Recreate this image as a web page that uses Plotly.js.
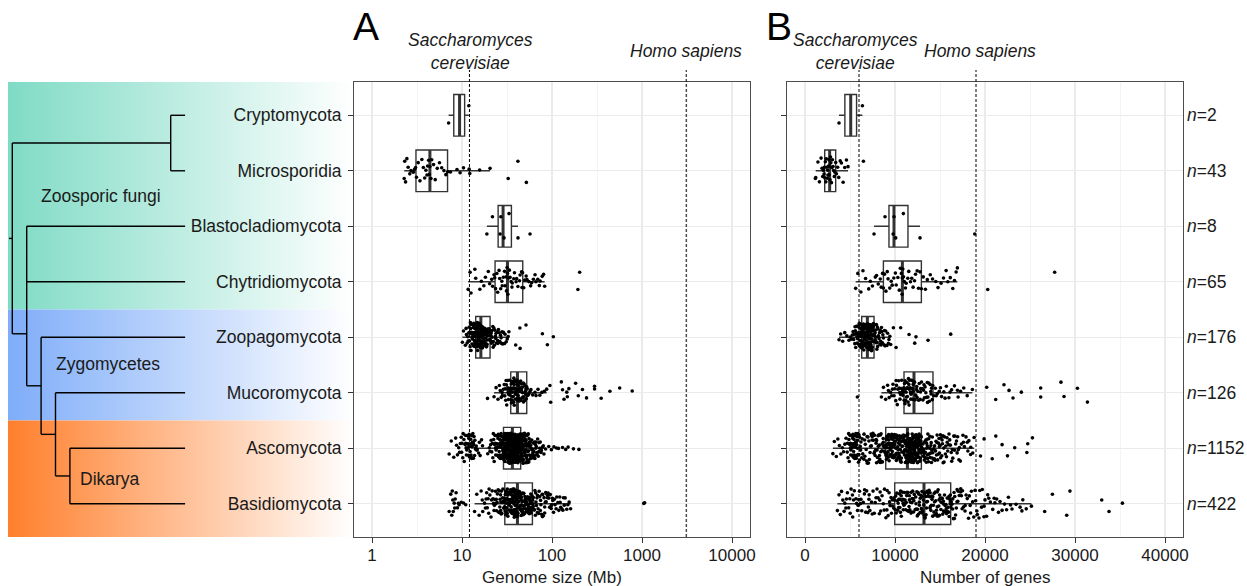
<!DOCTYPE html>
<html>
<head>
<meta charset="utf-8">
<script src="https://cdn.plot.ly/plotly-3.0.1.min.js"></script>
<style>
  html, body { margin: 0; padding: 0; background: #ffffff; }
  #chart { width: 1247px; height: 586px; }
</style>
</head>
<body>
<div id="chart"></div>
<script>
// ---------------------------------------------------------------
// Fungal phyla, top to bottom
// ---------------------------------------------------------------
const phyla = ['Cryptomycota', 'Microsporidia', 'Blastocladiomycota', 'Chytridiomycota',
               'Zoopagomycota', 'Mucoromycota', 'Ascomycota', 'Basidiomycota'];
const sampleSizes = [2, 43, 8, 65, 176, 126, 1152, 422];

// Clades shaded behind the tree
const cladeNames = ['Zoosporic fungi', 'Zygomycetes', 'Dikarya'];
const cladeFirst = ['Cryptomycota', 'Zoopagomycota', 'Ascomycota'];
const cladeLast  = ['Chytridiomycota', 'Mucoromycota', 'Basidiomycota'];

// Cladogram: internal nodes, their depth and their children
const treeNodes    = ['root', 'cmClade', 'coreClade', 'terrestrialClade', 'mucDikClade', 'dikaryaClade'];
const treeDepth    = [0, 11, 1, 2, 3, 4];
const treeChildren = [
  ['cmClade', 'coreClade'],
  ['Cryptomycota', 'Microsporidia'],
  ['Blastocladiomycota', 'Chytridiomycota', 'terrestrialClade'],
  ['Zoopagomycota', 'mucDikClade'],
  ['Mucoromycota', 'dikaryaClade'],
  ['Ascomycota', 'Basidiomycota']
];
const tipDepth = 12;

// Reference organisms
const refNames     = ['Saccharomyces cerevisiae', 'Homo sapiens'];
const refGenomeMb  = [12.1, 3100];
const refGeneCount = [6000, 19000];

// ---------------------------------------------------------------
// Genome size (Mb) per genome
// ---------------------------------------------------------------
const gsCrypto = [7.1, 11.9];
const gsMicro = [2.28, 2.31, 2.36, 2.44, 2.52, 2.63, 2.71, 2.88, 2.97, 3.05,
  3.12, 3.26, 3.41, 3.58, 3.72, 3.85, 3.97, 4.08, 4.15, 4.26,
  4.33, 4.40, 4.52, 4.61, 4.83, 5.04, 5.31, 5.62, 5.95, 6.30,
  6.62, 6.91, 7.45, 8.80, 9.52, 10.4, 12.0, 12.2, 15.7, 20.5,
  32.6, 41.8, 51.9];
const gsBlasto = [18.9, 21.8, 26.5, 27.0, 29.3, 33.3, 41.9, 57.0];
const gsChytrid = [11.7, 12.3, 12.6, 13.9, 14.2, 15.8, 16.4, 17.5, 18.2, 19.6,
  20.3, 21.4, 21.9, 22.7, 23.1, 23.6, 24.4, 24.9, 25.8, 26.2,
  26.9, 27.7, 28.0, 28.8, 29.7, 30.1, 30.9, 31.2, 31.7, 32.0,
  32.3, 32.9, 33.6, 34.2, 35.1, 35.9, 36.2, 37.6, 38.3, 39.9,
  40.5, 41.8, 43.6, 44.2, 45.9, 46.4, 47.1, 48.5, 49.8, 51.6,
  52.7, 55.3, 57.9, 59.4, 62.1, 64.8, 66.2, 69.5, 72.3, 73.8,
  77.9, 80.6, 82.9, 194, 203];
const gsZoopago = [10.1, 10.4, 10.9, 11.2, 11.4, 11.7, 11.9, 12.0, 12.3, 12.2,
  12.5, 12.6, 12.4, 12.9, 12.8, 13.1, 13.0, 12.7, 13.3, 13.2,
  13.5, 13.4, 13.6, 13.3, 13.8, 13.7, 13.9, 13.6, 14.0, 13.8,
  14.1, 13.9, 12.1, 11.6, 13.5, 14.2, 13.1, 12.6, 14.0, 13.7,
  11.1, 12.9, 13.4, 14.1,
  14.3, 14.5, 14.4, 14.8, 14.6, 15.0, 14.9, 15.2, 15.1, 15.4,
  15.3, 15.6, 15.5, 15.8, 15.7, 16.0, 15.9, 16.1, 14.7, 15.0,
  14.4, 15.3, 15.7, 14.6, 15.5, 16.2, 14.9, 15.1, 15.9, 14.3,
  15.4, 15.8, 14.8, 16.0, 15.2, 14.5, 15.6, 16.1, 14.7, 15.3,
  15.0, 15.9, 14.6, 15.5,
  16.4, 16.7, 16.9, 17.2, 17.0, 17.5, 17.3, 17.8, 18.1, 17.6,
  18.4, 18.0, 18.7, 18.9, 19.3, 19.0, 19.6, 19.8, 20.1, 20.4,
  16.5, 16.8, 17.1, 17.4, 17.9, 18.3, 18.6, 19.1, 19.5, 20.0,
  16.3, 16.6, 17.7, 18.2, 18.8, 19.4, 20.3, 16.9, 17.2, 18.5,
  19.2, 20.2, 17.0, 16.4,
  20.7, 21.1, 21.5, 22.0, 22.6, 23.1, 23.9, 24.6, 25.4, 26.3,
  27.2, 28.4, 29.7, 31.0, 32.6, 21.3, 22.3, 23.5, 24.2, 25.9,
  27.8, 30.1, 21.8, 20.9, 22.9, 26.8, 24.9, 21.6, 28.9, 23.7,
  31.8, 22.2, 20.6, 25.1, 27.5, 33.2, 21.0,
  39.5, 44.0, 44.2, 51.4, 78.2, 88.8, 103.5];
const gsMucoro = [19.2, 22.7, 30.2, 25.1, 33.5, 28.1, 31.9, 26.0, 34.2, 29.5,
  32.8, 23.9, 30.9, 27.3, 33.9, 31.4, 28.8, 34.6, 32.3, 29.9,
  33.1, 31.1, 27.9, 34.4, 32.5, 30.6, 26.6, 33.7, 32.0, 33.3, 34.7,
  35.0, 38.6, 36.3, 40.3, 37.2, 39.5, 35.9, 41.2, 38.1, 36.8,
  40.8, 37.7, 39.0, 35.4, 39.9, 36.1, 38.3, 41.0, 37.5, 35.6,
  40.0, 38.9, 36.6, 39.3, 37.0, 40.6, 35.2, 37.9, 39.7, 36.9, 38.4,
  41.5, 46.0, 43.4, 50.0, 42.1, 47.5, 44.7, 51.8, 42.8, 48.3,
  45.3, 50.9, 44.0, 49.1, 41.8, 46.8, 52.3, 43.0, 48.8, 44.3,
  50.4, 45.8, 42.5, 47.1, 49.6, 43.8, 51.2, 46.3, 45.0, 47.9, 44.9, 42.2,
  52.9, 53.1, 54.0, 55.5, 56.8, 58.3, 61.0, 64.7, 66.4, 69.9,
  73.2, 77.0, 82.1, 87.3, 94.8, 96.7, 127, 131, 136, 146,
  148, 154, 183, 196, 218, 242, 297, 297, 352, 440, 565, 778];
const gsAsco = [7.2, 12.4, 9.6, 13.8, 11.5, 8.5, 14.8, 10.2, 12.9, 16.5,
  11.0, 7.6, 13.3, 12.1, 9.9, 15.3, 11.7, 12.6, 8.1, 14.1,
  10.5, 13.1, 11.9, 16.9, 9.2, 12.3, 10.8, 14.4, 11.3, 12.8,
  8.9, 15.9, 11.2, 13.5, 12.0, 10.6, 12.7, 13.6, 9.4, 11.8,
  19.3, 24.7, 21.4, 27.9, 23.0, 26.1, 20.1, 28.5, 22.5, 25.5,
  27.3, 23.9, 20.8, 26.7, 24.3, 28.2, 22.0, 25.8, 27.6, 23.4,
  21.7, 26.4, 25.1, 28.8, 24.0, 27.0, 22.8, 25.3, 26.9, 23.6,
  27.4, 20.5, 25.9, 28.0, 24.5, 26.2, 27.1, 28.6, 23.2, 25.7,
  29.0, 33.5, 31.1, 35.3, 30.4, 32.9, 34.7, 29.8, 33.1, 31.6,
  35.8, 30.2, 32.4, 34.0, 29.5, 33.8, 31.3, 35.6, 30.7, 32.7,
  34.4, 29.3, 33.3, 31.8, 36.0, 30.9, 32.2, 34.9, 29.7, 33.7,
  31.4, 35.1, 30.3, 32.5, 34.2, 29.1, 33.9, 31.9, 35.7, 30.8,
  32.0, 34.6, 29.4, 33.0, 31.2, 35.2, 30.1, 32.8, 34.1, 29.6,
  33.4, 31.5, 35.5, 30.5, 32.3, 34.8, 29.2, 33.6, 31.7, 36.2,
  30.6, 32.6, 34.3, 29.9, 33.2, 31.0, 35.4, 30.0, 32.1, 34.5,
  36.1, 31.9, 33.8, 30.6, 32.8, 34.6, 35.0, 29.6, 31.5, 35.9,
  36.5, 40.7, 38.3, 43.1, 37.1, 41.6, 39.5, 44.3, 36.9, 42.2,
  38.9, 40.1, 43.7, 37.7, 41.0, 39.2, 44.8, 36.4, 42.8, 38.6,
  40.4, 43.4, 37.4, 41.3, 39.8, 44.0, 36.7, 42.5, 38.0, 40.9,
  43.9, 37.9, 41.8, 39.1, 44.6, 36.6, 42.0, 38.4, 40.3, 43.3,
  37.0, 41.5, 39.7, 44.2, 36.8, 42.7, 38.8, 40.6, 43.6, 37.6,
  41.2, 39.4, 44.5, 36.5, 42.4, 38.2, 40.0, 43.0, 37.3, 41.9,
  39.0, 44.7, 38.5, 42.1, 40.2, 43.5, 37.8, 41.4, 39.6, 42.9,
  36.9, 40.5, 43.8, 38.1, 41.7, 39.3, 42.6, 37.2, 40.8, 44.4,
  45.2, 52.5, 48.4, 61.2, 46.4, 55.8, 49.9, 66.3, 47.0, 57.0,
  51.6, 45.8, 72.8, 53.5, 47.7, 59.7, 49.1, 78.3, 54.6, 46.9,
  64.5, 50.7, 45.5, 58.3, 48.0, 68.2, 52.9, 62.8, 47.4, 55.1,
  81.4, 49.5, 57.6, 46.1, 70.4, 51.1, 60.4, 48.8, 75.5, 53.1,
  45.0, 63.6, 50.3, 56.3, 47.2, 85.0, 52.0, 67.0, 49.4, 58.9,
  46.6, 71.5, 54.0, 50.0, 62.0, 48.2, 76.2, 54.9, 65.4, 51.9,
  56.7, 80.0, 59.1, 69.3, 60.9, 64.0, 74.0, 66.0, 70.0, 73.1,
  92.0, 98.5, 105, 112, 118, 131, 142, 151, 173, 199,
  12.2, 11.4, 13.0, 10.9, 12.5, 14.6, 11.6, 13.4, 9.8, 12.9,
  10.3, 13.9, 11.1, 12.1, 14.2, 8.7, 15.6, 11.9, 13.2, 10.0,
  24.1, 27.7, 22.3, 26.6, 28.4, 25.0, 23.7, 27.2, 21.1, 26.0,
  30.2, 34.1, 31.6, 35.1, 29.4, 33.3, 30.9, 32.5, 36.0, 29.9,
  33.9, 31.3, 34.8, 32.0, 30.5, 35.6, 31.9, 33.6, 29.2, 34.4,
  37.4, 41.1, 39.2, 43.4, 36.8, 40.4, 42.6, 38.1, 44.1, 39.8,
  37.9, 41.8, 43.0, 36.6, 40.1, 42.3, 38.7, 44.6, 39.5, 41.5,
  46.3, 51.4, 48.7, 55.2, 47.5, 53.8, 50.2, 58.0, 45.7, 52.3,
  49.0, 62.5, 46.8, 56.1, 48.1, 54.4, 67.7, 51.7, 59.6, 47.9,
  45.4, 50.6, 57.3, 49.8, 53.0, 46.0, 61.7, 48.5, 55.6, 52.7,
  33.0, 36.4, 31.8, 38.9, 34.9, 40.0, 32.2, 37.0, 35.4, 42.0,
  30.0, 38.3, 33.7, 43.8, 36.2, 39.0, 31.0, 41.3, 34.3, 37.6];
const gsBasidio = [7.2, 8.4, 7.7, 9.8, 8.0, 11.0, 7.5, 8.9, 10.4, 7.9, 8.2, 9.3, 8.6, 7.8,
  13.8, 21.0, 17.8, 25.2, 15.5, 23.2, 19.1, 27.7, 16.3, 24.2,
  20.4, 28.9, 14.6, 22.1, 26.5, 18.5, 29.3, 21.6, 17.0, 25.6,
  23.7, 19.8, 27.3, 16.8, 22.7, 28.5, 24.7, 18.2, 26.1, 29.7,
  21.3, 19.5, 26.9, 22.4, 24.5, 28.1, 23.5, 25.9, 26.3, 28.3, 27.5,
  30.1, 35.7, 32.5, 39.3, 31.3, 37.3, 33.7, 40.5, 30.9, 36.1,
  34.1, 38.5, 31.7, 40.9, 33.3, 36.9, 30.5, 38.9, 34.9, 32.1,
  39.7, 35.3, 31.0, 37.7, 33.9, 41.2, 32.9, 36.5, 30.3, 38.1,
  34.5, 39.9, 31.9, 37.1, 35.1, 40.1, 32.7, 38.3, 30.7, 36.7,
  34.3, 39.1, 33.5, 40.7, 31.5, 37.9, 35.5, 32.3, 39.5, 34.7,
  36.3, 38.7, 31.2, 40.3, 37.5,
  41.6, 50.7, 45.1, 57.0, 43.7, 53.5, 47.9, 59.8, 42.3, 55.6,
  49.3, 44.4, 58.4, 46.5, 52.1, 43.0, 56.3, 48.6, 54.2, 45.8,
  60.4, 50.0, 42.7, 57.7, 47.2, 53.9, 44.8, 59.1, 49.7, 51.4,
  41.9, 55.3, 46.2, 58.1, 48.3, 52.8, 43.4, 56.7, 50.4, 54.6,
  45.5, 60.2, 47.6, 51.8, 42.0, 57.4, 49.0, 53.2, 44.1, 58.8,
  46.9, 55.9, 51.1, 54.9, 56.0,
  61.5, 84.4, 68.1, 106, 63.0, 94.0, 74.2, 122, 66.3, 90.6,
  70.0, 137, 64.6, 79.0, 101, 72.0, 155, 62.2, 87.4, 116,
  76.5, 65.4, 97.6, 81.6, 129, 69.0, 111, 73.1, 146, 63.8,
  82.9, 104, 67.2, 95.7, 77.7, 125, 71.0, 88.9, 113, 75.3,
  140, 80.3, 99.3, 86.0, 119, 92.3, 108, 78.2, 132, 85.1,
  161, 98.0, 150, 1047, 1070,
  33.1, 44.6, 38.2, 52.4, 29.0, 47.3, 35.9, 58.6, 41.8, 31.8,
  49.5, 36.8, 55.0, 27.0, 43.2, 39.6, 61.9, 34.8, 46.0, 51.0,
  24.0, 68.9, 37.4, 42.9, 30.6, 53.6, 40.0, 74.7, 32.4, 45.6,
  20.0, 57.9, 38.0, 89.8, 35.2, 48.0, 26.8, 60.9, 42.5, 33.9,
  18.8, 9.1, 8.3, 102, 39.0, 50.5, 29.6, 44.0, 65.9, 36.0,
  123, 41.0, 31.4, 54.2, 22.9, 47.0, 37.0, 83.0, 45.2, 134];

// Box summaries of genome size: lower whisker, Q1, median, Q3, upper whisker
const gsLow    = [7.1, 2.28, 18.9, 11.7, 10.1, 22.7, 15.3, 13.8];
const gsQ1     = [8.1, 3.08, 25.2, 23.3, 14.2, 34.8, 28.9, 29.9];
const gsMedian = [9.4, 4.40, 28.6, 32.0, 16.2, 41.3, 36.3, 41.3];
const gsQ3     = [10.7, 6.91, 35.4, 47.3, 20.5, 52.4, 44.9, 60.6];
const gsHigh   = [11.9, 20.5, 41.9, 82.9, 33.2, 87.3, 85.0, 161];

// ---------------------------------------------------------------
// Number of predicted genes per genome
// ---------------------------------------------------------------
const gnCrypto = [3780, 6380];
const gnMicro = [1150, 1190, 1437, 1602, 1785, 1893, 1968, 2046, 2118, 2153,
  2204, 2261, 2318, 2366, 2419, 2472, 2508, 2551, 2609, 2654,
  2696, 2741, 2779, 2836, 2871, 2934, 2985, 3046, 3117, 3172,
  3259, 3326, 3412, 3489, 3628, 3751, 3912, 4046, 4238, 4415,
  4604, 4780, 6490];
const gnBlasto = [7670, 8890, 9790, 9890, 10080, 10930, 12780, 18860];
const gnChytrid = [5630, 5870, 6210, 6440, 6730, 7080, 7260, 7490, 7810, 7950,
  8140, 8360, 8470, 8620, 8710, 8830, 8990, 9140, 9230, 9420,
  9580, 9690, 9870, 10040, 10130, 10320, 10480, 10590, 10710, 10790,
  10820, 10870, 10940, 11030, 11160, 11240, 11420, 11530, 11720, 11860,
  12010, 12170, 12280, 12460, 12610, 12770, 12930, 13140, 13380, 13590,
  13920, 14170, 14530, 14780, 15120, 15390, 15680, 15870, 16140, 16420,
  16610, 16790, 16930, 20300, 27740];
const gnZoopago = [3780, 3962, 4187, 4415, 4652, 4886, 5023, 5168, 5257, 5343,
  5409, 5476, 5534, 5592, 5637, 5684, 5723, 5768, 5812, 5846,
  5884, 5917, 5953, 5988, 6021, 6046, 6079, 6103, 6127, 6152,
  6168, 6193, 6207, 6234, 6249, 6263, 6278, 6291, 5561, 5873,
  6038, 6201, 5702, 5961,
  6312, 6335, 6361, 6372, 6398, 6415, 6427, 6458, 6471, 6496,
  6507, 6534, 6552, 6578, 6583, 6609, 6638, 6647, 6673, 6692,
  6715, 6728, 6756, 6761, 6793, 6814, 6829, 6857, 6866, 6893,
  6908, 6924, 6344, 6419, 6486, 6561, 6624, 6689, 6742, 6805,
  6851, 6902, 6383, 6597,
  6945, 6972, 6998, 7021, 7046, 7064, 7093, 7118, 7139, 7162,
  7188, 7214, 7237, 7259, 7286, 7311, 7335, 7358, 7382, 7407,
  7429, 7453, 7476, 7502, 7527, 7548, 7573, 7596, 7621, 7648,
  6958, 7035, 7106, 7174, 7247, 7318, 7391, 7462, 7538, 7610,
  7009, 7201, 7366, 7583,
  7702, 7748, 7815, 7869, 7932, 8004, 8071, 8153, 8226, 8318,
  8405, 8497, 8602, 8718, 8835, 8964, 9108, 9265, 9430, 9522,
  7735, 7851, 7986, 8112, 8274, 8446, 8653, 8892, 9180, 7790,
  8039, 8366, 8780, 9331, 7910, 8550,
  9820, 10120, 10630, 11560, 12190, 12330, 13670, 16190];
const gnMucoro = [5820, 8490, 8716, 8963, 9178, 9352, 9508, 9641, 9776, 9893,
  9987, 10084, 10165, 10253, 10327, 10412, 10476, 10553, 10618, 10694,
  10748, 10812, 10869, 10933, 10981, 9268, 9719, 10122, 10519, 10838, 10955,
  11018, 11063, 11107, 11154, 11192, 11236, 11284, 11317, 11372, 11408,
  11453, 11497, 11538, 11586, 11629, 11674, 11709, 11758, 11803, 11841,
  11887, 11932, 11968, 12019, 12058, 12094, 11129, 11346, 11562, 11781, 12003,
  12168, 12243, 12307, 12395, 12458, 12536, 12627, 12694, 12786, 12853,
  12944, 13017, 13106, 13172, 13265, 13338, 13427, 13494, 13586, 13653,
  13748, 13815, 13907, 13976, 14064, 14138, 14201, 12419, 12834, 13223, 13614, 14012,
  14306, 14482, 14693, 14918, 15174, 15427, 15703, 15988, 16291, 16607,
  16942, 17283, 17641, 18022, 18600, 14577, 15049, 15563, 16118, 17012,
  20190, 21190, 22110, 22670, 23110, 24040, 26190, 26190, 28440, 28780, 30270, 31380];
const gnAsco = [3100, 5210, 4780, 6140, 8420, 5530, 7290, 4920, 5880, 8860,
  3480, 5350, 6700, 5050, 7790, 5720, 4560, 8120, 5440, 6220,
  3820, 5110, 7480, 5620, 4690, 8600, 5940, 7000, 5260, 6420,
  4150, 5770, 8270, 4990, 5400, 7670, 6070, 4850, 8940, 5580,
  3650, 6300, 5160, 7150, 5490, 8690, 4430, 5670, 7960, 5310,
  6850, 5820, 4290, 8510, 5080, 7370, 6000, 3990, 8780, 5370,
  6560, 7550, 3260, 5650, 8220, 7230, 5900, 6930, 8900, 7850,
  6630, 8380, 7420, 8010, 8560, 7900, 8730, 8320, 8180, 7730,
  9120, 10480, 9870, 11210, 9350, 10790, 9040, 10150, 11330, 9610,
  10620, 9980, 11050, 9230, 10360, 9760, 10940, 9510, 11170, 10020,
  9410, 10710, 9080, 10260, 11290, 9690, 10550, 9190, 10880, 9940,
  11110, 9300, 10430, 9820, 11000, 9560, 10190, 9005, 10680, 11360,
  9650, 10310, 9270, 10830, 9910, 11240, 9460, 10580, 10090, 9730,
  11080, 9160, 10400, 9590, 10970, 9850, 11310, 9380, 10650, 10210,
  9050, 10760, 9790, 11140, 9490, 10340, 9950, 10860, 9210, 10500,
  11270, 9640, 10110, 9330, 10910, 9700, 11190, 10050, 9430, 10600,
  11420, 12310, 11890, 12760, 11560, 12080, 12650, 11710, 12440, 11980,
  12870, 11490, 12190, 11820, 12580, 11640, 12370, 12900, 11930, 12020,
  11450, 12710, 11760, 12260, 12520, 11600, 12140, 11870, 12820, 12400,
  11530, 12050, 12680, 11680, 12230, 11950, 12490, 11400, 12790, 12110,
  11790, 12610, 11470, 12340, 11910, 12160, 12550, 11730, 12920, 12000,
  11580, 12420, 11850, 12290, 11660, 12740, 12070, 11520, 12470, 11960,
  12200, 11440, 12630, 11810, 12360, 11620, 12850, 12120, 11700, 12540,
  11990, 12270, 11550, 12690, 11900, 12170, 12800, 11750, 12450, 12040,
  13050, 15420, 13880, 17260, 14310, 13190, 16080, 14820, 13560, 18210,
  15010, 13320, 16740, 14090, 13720, 15860, 17890, 14560, 13110, 16420,
  15230, 13990, 18640, 14680, 13430, 16960, 15640, 14200, 17550, 13620,
  15330, 14930, 13010, 16250, 13800, 17040, 14450, 15780, 18420, 13260,
  14740, 16610, 13530, 15120, 17710, 14020, 13950, 16150, 15500, 13370,
  14380, 17380, 13690, 15940, 16830, 14130, 13160, 15270, 18030, 14610,
  13480, 16530, 15070, 13840, 17150, 14890, 16370, 13590, 15720, 18790,
  19500, 19900, 20800, 21200, 21900, 22500, 23300, 24650, 24750, 25270,
  5150, 5480, 4880, 5700, 5320, 6050, 4720, 5560, 5990, 5090,
  5830, 5420, 6180, 4960, 5610, 5270, 6350, 5040, 5760, 5380,
  7100, 8050, 7600, 8450, 6800, 7900, 8700, 7350, 8250, 6550,
  9250, 10350, 9700, 11050, 9450, 10600, 9950, 10800, 9150, 10150,
  11250, 9600, 10500, 9850, 10950, 9350, 10250, 11150, 9550, 10700,
  11480, 12250, 11650, 12550, 11920, 12760, 11540, 12380, 11780, 12650,
  11430, 12180, 11860, 12880, 11610, 12320, 12010, 12480, 11720, 12600,
  13300, 14500, 15800, 13650, 16900, 14150, 15350, 13900, 17600, 14850,
  13150, 16300, 15050, 14300, 18100, 13500, 15600, 14650, 16650, 13750,
  14050, 15200, 13400, 17100, 14400, 16000, 13250, 15450, 18400, 14950,
  7450, 8150, 6900, 8550, 7750, 8850, 7050, 8350, 6650, 7950,
  9100, 10050, 10450, 9750, 11350, 12150, 11800, 12950, 13000, 13600];
const gnBasidio = [3600, 4350, 5120, 6980, 8410, 3920, 7560, 9240, 4710, 6150,
  8830, 5480, 7210, 9610, 4060, 6470, 8120, 5830, 9870, 4980,
  7890, 3780, 6620, 8560, 5270, 9450, 7040, 4540, 8990, 6310,
  5660, 9730, 4200, 7700, 6850, 8260, 5960, 9130, 4850, 7390,
  6060, 8700, 5390, 9560, 7130, 4420, 8000, 6750, 9950, 5020,
  7470, 8350, 6210, 9340, 5740,
  10030, 11840, 10560, 12710, 11190, 10270, 12430, 11520, 10810, 13150,
  11970, 10140, 12060, 10690, 12890, 11330, 10420, 12570, 11060, 13020,
  10920, 11710, 12250, 10350, 12990, 11410, 10760, 12140, 11600, 10080,
  12650, 11250, 10620, 13200, 11880, 10490, 12330, 11120, 12800, 10200,
  11780, 12480, 10870, 11450, 12930, 10310, 12020, 11640, 10990, 12600,
  11020, 12370, 10540, 13080, 11560,
  13280, 14950, 13710, 15820, 14260, 13450, 15370, 14600, 16080, 13860,
  15100, 14040, 15640, 13350, 14790, 15950, 14420, 13560, 15260, 16150,
  13940, 14700, 15500, 13250, 14190, 15730, 14870, 13630, 16020, 15180,
  14320, 13790, 15430, 14530, 13410, 15890, 14110, 15020, 16110, 13520,
  14680, 15310, 13980, 15570, 14360, 13300, 15990, 14830, 13880, 15220,
  14480, 15680, 13640, 14960, 16170,
  16320, 18750, 17140, 21300, 16890, 19620, 17780, 23450, 16560, 20180,
  18260, 16420, 22170, 17460, 19150, 24580, 16730, 18960, 20860, 17290,
  16250, 19880, 18030, 22840, 17610, 16980, 21670, 18490, 25160, 17020,
  20420, 16640, 19330, 18350, 23900, 17900, 16500, 21020, 18620, 19700,
  24100, 17380, 20000, 22400, 16810, 18170, 19420, 21900,
  26630, 27490, 29080, 29440, 32970, 33780, 35270,
  10600, 14200, 12100, 17800, 8300, 15400, 11300, 19900, 13600, 9400,
  16600, 12500, 21500, 7100, 14700, 11900, 23000, 13000, 15700, 5900,
  18400, 10900, 16200, 12800, 4600, 20600, 14100, 9900, 17300, 11600,
  24200, 13300, 8800, 15100, 19100, 10400, 14400, 6600, 16900, 12300,
  22600, 11100, 13900, 18900, 9700, 15800, 12700, 20300, 7800, 14900,
  10700, 17500, 13500, 5300, 16400, 11800, 21100, 14600, 9100, 15500];

// Box summaries of gene number
const gnLow    = [3780, 1190, 7670, 5630, 3780, 8490, 3100, 3600];
const gnQ1     = [4430, 2190, 9330, 8710, 6300, 11000, 8970, 9970];
const gnMedian = [5080, 2740, 9890, 10820, 6930, 12110, 11380, 13220];
const gnQ3     = [5730, 3410, 11440, 12930, 7670, 14220, 12930, 16190];
const gnHigh   = [6380, 4780, 12780, 16930, 9520, 18600, 18800, 25160];

const genomeSets = [gsCrypto, gsMicro, gsBlasto, gsChytrid, gsZoopago, gsMucoro, gsAsco, gsBasidio];
const geneSets   = [gnCrypto, gnMicro, gnBlasto, gnChytrid, gnZoopago, gnMucoro, gnAsco, gnBasidio];

// ---------------------------------------------------------------
// Page geometry (pixels -> paper fractions)
// ---------------------------------------------------------------
const W = 1247, H = 586;
const px = v => v / W;
const py = v => 1 - v / H;
const yDomain = [py(537), py(82)];
const yRange = [7.6, -0.6];
const font = 'Liberation Sans, Arial, Helvetica, sans-serif';
const ink = '#1a1a1a';
const boxInk = '#333333';
const positions = phyla.map((_, i) => i);

// ---------------------------------------------------------------
// Tree panel: shaded clades + cladogram
// ---------------------------------------------------------------
const traces = [];
const bandColors = ['#7fdbc5', '#7fadf9', '#ff7f2c'];
cladeNames.forEach((name, k) => {
  const i0 = phyla.indexOf(cladeFirst[k]);
  const i1 = phyla.indexOf(cladeLast[k]);
  const top = i0 === 0 ? yRange[1] : i0 - 0.5;
  const bottom = i1 === phyla.length - 1 ? yRange[0] : i1 + 0.5;
  const left = -0.3, right = 23.73;
  traces.push({
    type: 'scatter', xaxis: 'x', yaxis: 'y', mode: 'lines',
    x: [left, right, right, left, left],
    y: [top, top, bottom, bottom, top],
    fill: 'toself',
    fillgradient: { type: 'horizontal', colorscale: [[0, bandColors[k]], [1, '#ffffff']] },
    line: { width: 0, color: 'rgba(0,0,0,0)' },
    hoverinfo: 'skip'
  });
});

function nodeY(name) {
  const leaf = phyla.indexOf(name);
  if (leaf >= 0) return leaf;
  const kids = treeChildren[treeNodes.indexOf(name)];
  // a node sits halfway between its last two branches
  const a = nodeY(kids[kids.length - 2]), b = nodeY(kids[kids.length - 1]);
  return (a + b) / 2;
}
function nodeX(name) {
  return phyla.indexOf(name) >= 0 ? tipDepth : treeDepth[treeNodes.indexOf(name)];
}
const treeX = [], treeY = [];
treeNodes.forEach((name, n) => {
  const d = treeDepth[n];
  const ys = treeChildren[n].map(nodeY);
  treeX.push(d, d, null);
  treeY.push(Math.min(...ys), Math.max(...ys), null);
  treeChildren[n].forEach(child => {
    const cy = nodeY(child);
    treeX.push(d, nodeX(child), null);
    treeY.push(cy, cy, null);
  });
});
treeX.push(-0.23, 0, null);
treeY.push(nodeY('root'), nodeY('root'), null);
traces.push({
  type: 'scatter', xaxis: 'x', yaxis: 'y', mode: 'lines',
  x: treeX, y: treeY,
  line: { color: '#000000', width: 1.4 },
  hoverinfo: 'skip', connectgaps: false
});

// ---------------------------------------------------------------
// Box plots with jittered genomes
// ---------------------------------------------------------------
function panelTraces(xa, ya, sets, low, q1, med, q3, high) {
  const out = [];
  out.push({
    type: 'box', xaxis: xa, yaxis: ya, orientation: 'h',
    y: positions, lowerfence: low, q1: q1, median: med, q3: q3, upperfence: high,
    width: 0.75, whiskerwidth: 0, boxpoints: false,
    fillcolor: '#ffffff', line: { color: boxInk, width: 1.4 },
    hoverinfo: 'skip'
  });
  // heavier median bar
  out.push({
    type: 'box', xaxis: xa, yaxis: ya, orientation: 'h',
    y: positions, lowerfence: med, q1: med, median: med, q3: med, upperfence: med,
    width: 0.75, whiskerwidth: 0, boxpoints: false,
    fillcolor: 'rgba(0,0,0,0)', line: { color: boxInk, width: 3 },
    hoverinfo: 'skip'
  });
  // genomes are jittered in three groups (inside the box, along the whiskers,
  // beyond the whiskers) so that sparse tails spread as widely as the core
  sets.forEach((vals, i) => {
    const groups = [
      vals.filter(v => v >= q1[i] && v <= q3[i]),
      vals.filter(v => (v >= low[i] && v < q1[i]) || (v > q3[i] && v <= high[i])),
      vals.filter(v => v < low[i] || v > high[i])
    ];
    groups.forEach(g => {
      if (!g.length) return;
      out.push({
        type: 'box', xaxis: xa, yaxis: ya, orientation: 'h',
        name: phyla[i], x: g, y0: i,
        width: 0.75, boxpoints: 'all', jitter: 0.72, pointpos: 0,
        fillcolor: 'rgba(0,0,0,0)', line: { width: 0, color: 'rgba(0,0,0,0)' },
        marker: { color: '#000000', size: 3.6, line: { width: 0 } },
        hoverinfo: 'skip'
      });
    });
  });
  return out;
}
traces.push(...panelTraces('x2', 'y2', genomeSets, gsLow, gsQ1, gsMedian, gsQ3, gsHigh));
traces.push(...panelTraces('x3', 'y3', geneSets, gnLow, gnQ1, gnMedian, gnQ3, gnHigh));

// ---------------------------------------------------------------
// Axes
// ---------------------------------------------------------------
const tickFont = { family: font, size: 17, color: ink };
const gridColor = '#ebebeb';
const frame = { showline: true, mirror: true, linecolor: '#4d4d4d', linewidth: 1, zeroline: false };

const layout = {
  width: W, height: H,
  margin: { l: 0, r: 0, t: 0, b: 0 },
  paper_bgcolor: '#ffffff', plot_bgcolor: 'rgba(0,0,0,0)',
  showlegend: false, hovermode: false, boxmode: 'overlay',
  font: { family: font, size: 17.5, color: ink },

  xaxis: { domain: [0, px(354)], range: [-0.854, 23.73], visible: false, fixedrange: true },
  yaxis: { domain: yDomain, range: yRange, visible: false, fixedrange: true },

  xaxis2: Object.assign({}, frame, {
    domain: [px(354), px(750)], anchor: 'y2', type: 'log', range: [-0.2, 4.2],
    tickmode: 'array', tickvals: [1, 10, 100, 1000, 10000], ticktext: ['1', '10', '100', '1000', '10000'],
    ticks: 'outside', ticklen: 5, tickcolor: boxInk, tickwidth: 1, tickfont: tickFont,
    ticklabelstandoff: -2,
    showgrid: true, gridcolor: gridColor, gridwidth: 1.1,
    minor: { tickmode: 'array', tickvals: [3.162, 31.62, 316.2, 3162], showgrid: true, gridcolor: '#f1f1f1', gridwidth: 0.8, ticks: '' }
  }),
  yaxis2: Object.assign({}, frame, {
    domain: yDomain, anchor: 'x2', type: 'linear', range: yRange,
    tickmode: 'array', tickvals: positions, ticktext: phyla,
    ticks: 'outside', ticklen: 5, tickcolor: boxInk, tickwidth: 1,
    tickfont: { family: font, size: 17.5, color: ink },
    ticklabelstandoff: 3,
    showgrid: true, gridcolor: gridColor, gridwidth: 1.1
  }),

  xaxis3: Object.assign({}, frame, {
    domain: [px(787), px(1183)], anchor: 'y3', type: 'linear', range: [-2000, 42000],
    tickmode: 'array', tickvals: [0, 10000, 20000, 30000, 40000], ticktext: ['0', '10000', '20000', '30000', '40000'],
    ticks: 'outside', ticklen: 5, tickcolor: boxInk, tickwidth: 1, tickfont: tickFont,
    ticklabelstandoff: -2,
    showgrid: true, gridcolor: gridColor, gridwidth: 1.1,
    minor: { tickmode: 'array', tickvals: [5000, 15000, 25000, 35000], showgrid: true, gridcolor: '#f1f1f1', gridwidth: 0.8, ticks: '' }
  }),
  yaxis3: Object.assign({}, frame, {
    domain: yDomain, anchor: 'x3', type: 'linear', range: yRange,
    tickmode: 'array', tickvals: positions, showticklabels: false,
    ticks: 'outside', ticklen: 5, tickcolor: boxInk, tickwidth: 1,
    showgrid: true, gridcolor: gridColor, gridwidth: 1.1
  }),

  shapes: [],
  annotations: []
};

// reference organisms: dashed markers reaching above the panels
const dash = { color: '#000000', width: 1, dash: '3px,2px' };
refNames.forEach((name, k) => {
  layout.shapes.push({ type: 'line', xref: 'x2', yref: 'paper', x0: refGenomeMb[k], x1: refGenomeMb[k], y0: yDomain[0], y1: py(70), line: dash });
  layout.shapes.push({ type: 'line', xref: 'x3', yref: 'paper', x0: refGeneCount[k], x1: refGeneCount[k], y0: yDomain[0], y1: py(70), line: dash });
});

const labelFont = { family: font, size: 17.5, color: ink };
function refLabels(xref, x, xshift) {
  const [genus, species] = refNames[0].split(' ');
  return [
    { xref, yref: 'paper', x: x[0], y: py(52), xshift: xshift[0], text: '<i>' + genus + '</i><br><i>' + species + '</i>',
      showarrow: false, xanchor: 'center', yanchor: 'middle', font: labelFont },
    { xref, yref: 'paper', x: x[1], y: py(50.7), xshift: xshift[1], text: '<i>' + refNames[1] + '</i>',
      showarrow: false, xanchor: 'center', yanchor: 'middle', font: labelFont }
  ];
}
layout.annotations.push(...refLabels('x2', refGenomeMb.map(v => Math.log10(v)), [1, 0]));
layout.annotations.push(...refLabels('x3', refGeneCount, [-3, 4]));

// axis titles
layout.annotations.push(
  { xref: 'paper', yref: 'paper', x: px(552), y: py(577.5), text: 'Genome size (Mb)', showarrow: false,
    xanchor: 'center', yanchor: 'middle', font: { family: font, size: 17, color: ink } },
  { xref: 'paper', yref: 'paper', x: px(985), y: py(577.5), text: 'Number of genes', showarrow: false,
    xanchor: 'center', yanchor: 'middle', font: { family: font, size: 17, color: ink } }
);

// sample sizes at the right edge
sampleSizes.forEach((n, i) => {
  layout.annotations.push({ xref: 'paper', yref: 'y3', x: px(1185), y: i, text: '<i>n</i>=' + n,
    showarrow: false, xanchor: 'left', yanchor: 'middle', font: labelFont });
});

// clade names inside the shaded bands
const cladeLabelPos = [[1.85, 1.45], [2.92, 4.48], [4.58, 6.55]];
cladeNames.forEach((name, k) => {
  layout.annotations.push({ xref: 'x', yref: 'y', x: cladeLabelPos[k][0], y: cladeLabelPos[k][1], text: name,
    showarrow: false, xanchor: 'left', yanchor: 'middle', font: labelFont });
});

// panel tags
[['A', 351], ['B', 764]].forEach(([tag, left]) => {
  layout.annotations.push({ xref: 'paper', yref: 'paper', x: px(left), y: py(26.7), text: tag,
    showarrow: false, xanchor: 'left', yanchor: 'middle', font: { family: font, size: 39, color: '#000000' } });
});

Plotly.newPlot('chart', traces, layout, { staticPlot: true, displayModeBar: false });
</script>
</body>
</html>
